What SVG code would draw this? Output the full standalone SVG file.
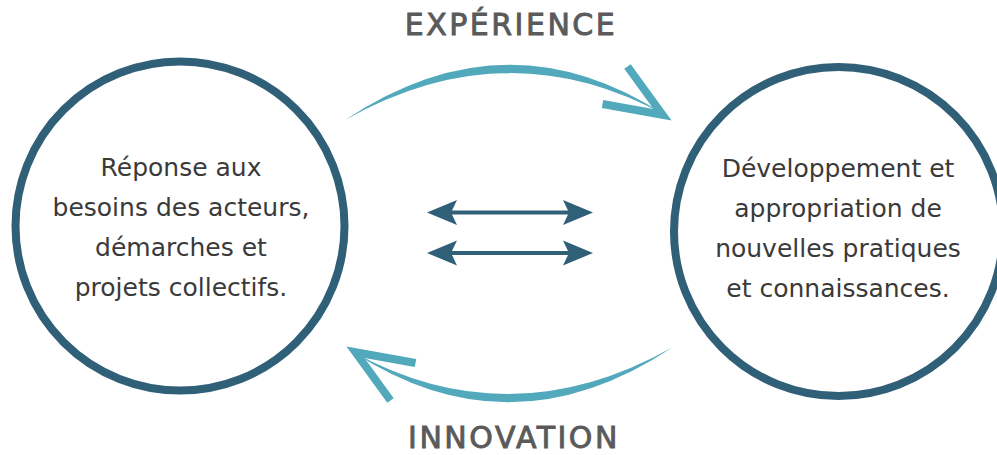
<svg xmlns="http://www.w3.org/2000/svg" width="997" height="455" viewBox="0 0 997 455">
<style>
.ring{fill:none;stroke:#305f78;stroke-width:8}
.body{font-family:"DejaVu Sans","Liberation Sans",sans-serif;font-size:25px;fill:#3a3a3a;text-anchor:middle}
.label{font-family:"DejaVu Sans","Liberation Sans",sans-serif;font-size:30px;fill:#5a5a5a;stroke:#5a5a5a;stroke-width:0.9;letter-spacing:2.5px;text-anchor:middle}
.cyc{fill:#52a9bc}
.head{fill:none;stroke:#52a9bc;stroke-width:8;stroke-linejoin:miter;stroke-miterlimit:6}
.dbl{fill:#305f78}
</style>
<defs>
<g id="cycleArrow">
<path class="cyc" d="M345,120 Q507,12 665,115 Q507,28.5 345,120 Z"/>
<polyline class="head" points="627.5,66.5 662.5,114.7 602.5,104"/>
</g>
<path id="dblArrow" d="M427,0 L457,-12.5 L452,-2 L568,-2 L563,-12.5 L593,0 L563,12.5 L568,2 L452,2 L457,12.5 Z"/>
</defs>
<g id="node-left">
<circle class="ring" cx="180" cy="226" r="164.5"/>
<text class="body" x="181" y="176">Réponse aux</text>
<text class="body" x="181" y="216">besoins des acteurs,</text>
<text class="body" x="181" y="256">démarches et</text>
<text class="body" x="181" y="296">projets collectifs.</text>
</g>
<g id="node-right">
<circle class="ring" cx="838.5" cy="231.5" r="164.5"/>
<text class="body" x="838" y="177">Développement et</text>
<text class="body" x="838" y="217">appropriation de</text>
<text class="body" x="838" y="257">nouvelles pratiques</text>
<text class="body" x="838" y="297">et connaissances.</text>
</g>
<g id="connectors">
<use href="#cycleArrow"/>
<use href="#cycleArrow" transform="rotate(180 509 233.5)"/>
<use href="#dblArrow" class="dbl" transform="translate(0 212.5)"/>
<use href="#dblArrow" class="dbl" transform="translate(0 253)"/>
</g>
<g id="labels">
<text class="label" x="511" y="35">EXPÉRIENCE</text>
<text class="label" x="514" y="448" font-size="29">INNOVATION</text>
</g>
</svg>
